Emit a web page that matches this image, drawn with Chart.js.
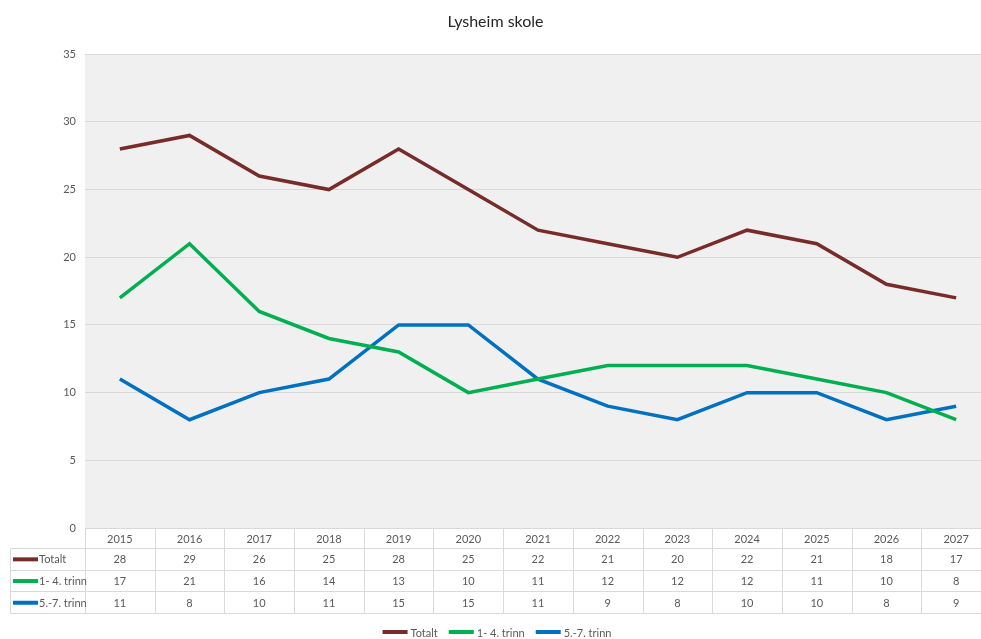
<!DOCTYPE html>
<html>
<head>
<meta charset="utf-8">
<script src="https://cdn.jsdelivr.net/npm/chart.js@4/dist/chart.umd.min.js"></script>
<style>
  html, body { margin: 0; padding: 0; background: #fff; overflow: hidden; }
  #wrap { width: 994px; height: 639px; }
</style>
</head>
<body>
<div id="wrap"><canvas id="chart"></canvas></div>
<script>
// Data
const years = ['2015','2016','2017','2018','2019','2020','2021','2022','2023','2024','2025','2026','2027'];
const totalt = [28, 29, 26, 25, 28, 25, 22, 21, 20, 22, 21, 18, 17];
const trinn14 = [17, 21, 16, 14, 13, 10, 11, 12, 12, 12, 11, 10, 8];
const trinn57 = [11, 8, 10, 11, 15, 15, 11, 9, 8, 10, 10, 8, 9];
const seriesNames = ['Totalt', '1- 4. trinn', '5.-7. trinn'];
const seriesColors = ['#772c2a', '#00b050', '#0070c0'];

const textColor = '#595959';
const gridColor = '#d9d9d9';
const fontFamily = 'Lato, "Open Sans", sans-serif';

// plot background
const plotBg = {
  id: 'plotBg',
  beforeDraw(chart) {
    const { ctx, chartArea: a } = chart;
    ctx.save();
    ctx.fillStyle = '#f0f0f0';
    ctx.fillRect(a.left, a.top, a.right - a.left, a.bottom - a.top);
    ctx.restore();
  }
};

// data table under the plot, plus the legend below it
const dataTable = {
  id: 'dataTable',
  afterDraw(chart) {
    const { ctx } = chart;
    const x = chart.scales.x;
    const top = chart.chartArea.bottom;
    const rowH = [20, 21.7, 21.7, 21.7];
    const labelLeft = 10.5;
    const left = x.left;
    const right = x.right;
    const step = x.getPixelForValue(1) - x.getPixelForValue(0);
    const rows = [totalt, trinn14, trinn57];

    const ys = [top];
    rowH.forEach(h => ys.push(ys[ys.length - 1] + h));

    ctx.save();
    ctx.strokeStyle = gridColor;
    ctx.lineWidth = 1;
    ctx.beginPath();
    // horizontal lines
    ctx.moveTo(left, ys[0] + 0.5); ctx.lineTo(right, ys[0] + 0.5);
    for (let i = 1; i < ys.length; i++) {
      const yy = Math.round(ys[i]) + 0.5;
      ctx.moveTo(labelLeft, yy); ctx.lineTo(right, yy);
    }
    // vertical lines
    ctx.moveTo(labelLeft, Math.round(ys[1]) + 0.5); ctx.lineTo(labelLeft, Math.round(ys[4]) + 0.5);
    for (let i = 0; i <= years.length; i++) {
      const xx = Math.round(left + i * step) + 0.5;
      ctx.moveTo(xx, ys[0]); ctx.lineTo(xx, Math.round(ys[4]) + 0.5);
    }
    ctx.stroke();

    ctx.fillStyle = textColor;
    ctx.font = '11px ' + fontFamily;
    ctx.textAlign = 'center';
    ctx.textBaseline = 'middle';
    years.forEach((yr, i) => {
      const cx = x.getPixelForValue(i);
      ctx.fillText(yr, cx, (ys[0] + ys[1]) / 2 + 1);
      rows.forEach((r, j) => {
        ctx.fillText(String(r[i]), cx, (ys[j + 1] + ys[j + 2]) / 2 + 1);
      });
    });

    // row labels with line keys
    ctx.textAlign = 'left';
    rows.forEach((r, j) => {
      const cy = (ys[j + 1] + ys[j + 2]) / 2;
      ctx.strokeStyle = seriesColors[j];
      ctx.lineWidth = 4;
      ctx.beginPath();
      ctx.moveTo(13, cy + 0.5);
      ctx.lineTo(38, cy + 0.5);
      ctx.stroke();
      ctx.fillStyle = textColor;
      ctx.fillText(seriesNames[j], 39, cy + 1);
    });

    // legend
    const ly = 632;
    const keyW = 25, keyGap = 3, itemGap = 11;
    const widths = seriesNames.map(n => keyW + keyGap + ctx.measureText(n).width);
    const total = widths.reduce((a, b) => a + b, 0) + itemGap * (widths.length - 1);
    let lx = chart.width / 2 - total / 2;
    seriesNames.forEach((n, j) => {
      ctx.strokeStyle = seriesColors[j];
      ctx.lineWidth = 4;
      ctx.beginPath();
      ctx.moveTo(lx, ly);
      ctx.lineTo(lx + keyW, ly);
      ctx.stroke();
      ctx.fillStyle = textColor;
      ctx.fillText(n, lx + keyW + keyGap, ly + 1);
      lx += widths[j] + itemGap;
    });
    ctx.restore();
  }
};

const datasets = [totalt, trinn14, trinn57].map((d, i) => ({
  label: seriesNames[i],
  data: d,
  borderColor: seriesColors[i],
  backgroundColor: seriesColors[i],
  borderWidth: 3.5,
  pointRadius: 0,
  pointHoverRadius: 0,
  tension: 0
}));

new Chart(document.getElementById('chart'), {
  type: 'line',
  data: { labels: years, datasets },
  plugins: [plotBg, dataTable],
  options: {
    responsive: true,
    maintainAspectRatio: false,
    animation: false,
    layout: { padding: { left: 0, right: 3, top: 0, bottom: 26 } },
    plugins: {
      title: {
        display: true,
        text: 'Lysheim skole',
        color: '#262626',
        font: { family: fontFamily, size: 16, weight: 'normal' },
        padding: { top: 12, bottom: 23 }
      },
      legend: { display: false },
      tooltip: { enabled: false }
    },
    scales: {
      x: {
        offset: true,
        grid: { display: false },
        border: { display: false },
        ticks: { display: false },
        afterFit(scale) { scale.height = 85; }
      },
      y: {
        min: 0,
        max: 35,
        ticks: {
          stepSize: 5,
          color: textColor,
          font: { family: fontFamily, size: 11 },
          padding: 9
        },
        grid: { color: gridColor, drawTicks: false, lineWidth: 1 },
        border: { display: false },
        afterFit(scale) { scale.width = 85; }
      }
    }
  }
});
</script>
</body>
</html>
